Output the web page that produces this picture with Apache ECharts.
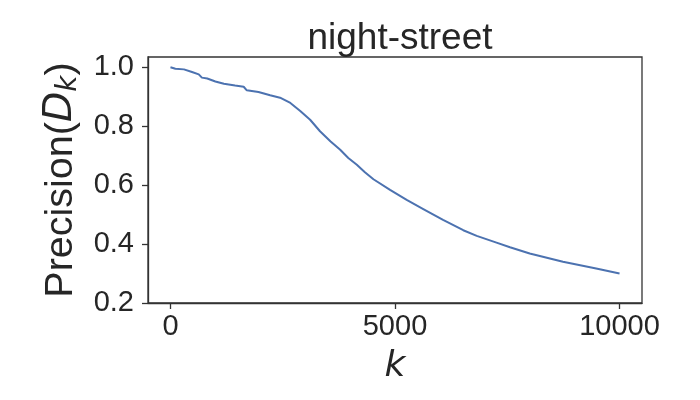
<!DOCTYPE html>
<html>
<head>
<meta charset="utf-8">
<script src="https://cdn.jsdelivr.net/npm/echarts@6/dist/echarts.min.js"></script>
<style>
  html, body { margin: 0; padding: 0; background: #fff; }
  #main { width: 700px; height: 400px; }
</style>
</head>
<body>
<div id="main"></div>
<script>
// values
const kValues = [0, 110, 300, 480, 630, 700, 820, 1000, 1190, 1440, 1630, 1700, 1960, 2220, 2440, 2670, 2890, 3110, 3330, 3560, 3780, 3960, 4150, 4330, 4520, 4890, 5260, 5630, 6070, 6520, 6820, 7260, 7560, 8000, 8740, 9480, 10000];
const precision = [1.0, 0.995, 0.993, 0.984, 0.976, 0.965, 0.962, 0.952, 0.944, 0.938, 0.934, 0.922, 0.916, 0.905, 0.897, 0.879, 0.852, 0.822, 0.783, 0.749, 0.720, 0.692, 0.669, 0.644, 0.620, 0.584, 0.550, 0.519, 0.482, 0.447, 0.428, 0.405, 0.389, 0.368, 0.340, 0.317, 0.300];
const xTicks = [0, 5000, 10000];
const yTicks = [0.2, 0.4, 0.6, 0.8, 1.0];
const chartTitle = 'night-street';

const chart = echarts.init(document.getElementById('main'));
const ink = '#262626';
const frame = '#333333';
const font = 'Liberation Sans';

const lineData = kValues.map((k, i) => [k, precision[i]]);

chart.setOption({
  animation: false,
  title: {
    text: chartTitle,
    left: 395,
    top: 15,
    textAlign: 'center',
    textStyle: { fontFamily: font, fontSize: 37, fontWeight: 'normal', color: ink }
  },
  grid: {
    left: 148, right: 58, top: 57, bottom: 97,
    show: true, borderColor: frame, borderWidth: 1.3, backgroundColor: '#fff'
  },
  xAxis: {
    type: 'value',
    min: -500,
    max: 10500,
    name: 'k',
    nameLocation: 'middle',
    nameGap: 46,
    nameTextStyle: { fontFamily: 'DejaVu Sans', fontStyle: 'italic', fontSize: 36, color: ink },
    axisLine: { show: true, onZero: false, lineStyle: { color: frame, width: 1.3 } },
    axisTick: { show: true, length: 6, lineStyle: { color: frame, width: 1.3 }, customValues: xTicks },
    axisLabel: {
      customValues: xTicks, margin: 9, fontFamily: font, fontSize: 29, color: ink,
      formatter: v => String(v)
    },
    splitLine: { show: false }
  },
  yAxis: {
    type: 'value',
    min: 0.2,
    max: 1.035,
    name: '{a|Precision(}{d|D}{s|k}{a|)}',
    nameLocation: 'middle',
    nameRotate: 90,
    nameGap: 60,
    nameTextStyle: {
      color: ink,
      rich: {
        a: { fontFamily: font, fontSize: 39.5, color: ink, lineHeight: 44 },
        d: { fontFamily: 'DejaVu Sans', fontStyle: 'italic', fontSize: 39.5, color: ink, lineHeight: 44 },
        s: { fontFamily: 'DejaVu Sans', fontStyle: 'italic', fontSize: 28, color: ink, verticalAlign: 'bottom', lineHeight: 30, padding: [14, 0, 0, 0] }
      }
    },
    axisLine: { show: true, onZero: false, lineStyle: { color: frame, width: 1.3 } },
    axisTick: { show: true, length: 6, lineStyle: { color: frame, width: 1.3 }, customValues: yTicks },
    axisLabel: {
      customValues: yTicks,
      margin: 14,
      fontFamily: font,
      fontSize: 29,
      color: ink,
      formatter: v => v.toFixed(1)
    },
    splitLine: { show: false }
  },
  series: [{
    type: 'line',
    data: lineData,
    showSymbol: false,
    lineStyle: { color: '#4c72b0', width: 2 },
    silent: true
  }]
});
</script>
</body>
</html>
